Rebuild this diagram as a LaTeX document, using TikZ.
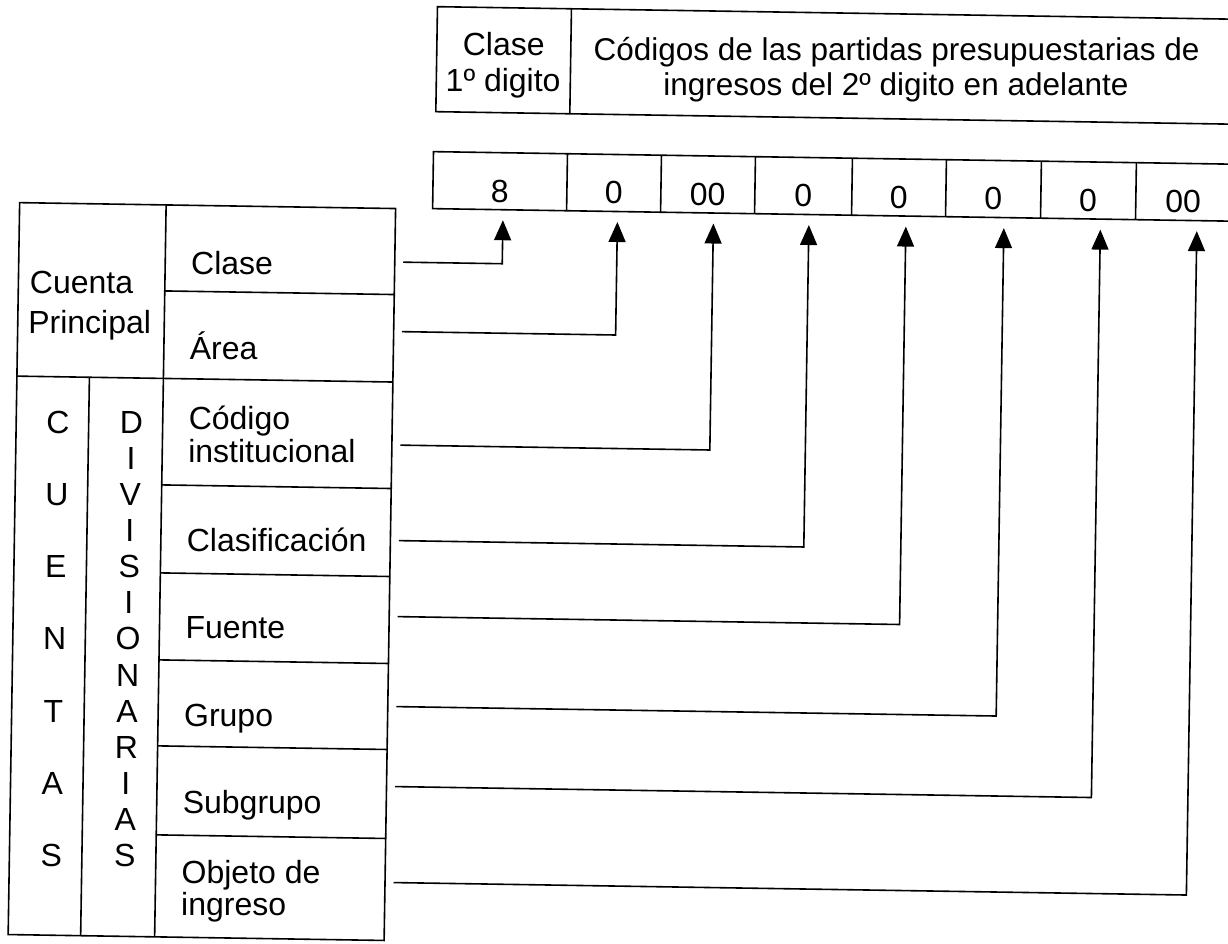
\documentclass[tikz,border=0pt]{standalone}
\usepackage{fontspec}
\setmainfont{Liberation Sans}
\usetikzlibrary{arrows.meta}
\begin{document}
\begin{tikzpicture}[x=1pt,y=-1pt,
  tbl/.style={line width=1.6pt},
  conn/.style={line width=1.6pt,-{Triangle[length=20pt,width=17pt]}},
  txt/.style={inner sep=0pt,font=\fontsize{32}{36}\selectfont},
  lab/.style={txt,anchor=base west},
  ctr/.style={txt,anchor=base},
  head/.style={ctr,font=\fontsize{31.5}{36}\selectfont}]
\useasboundingbox (0,0) rectangle (1228,943);
\fill[white] (0,0) rectangle (1228,943);
\clip (0,0) rectangle (1228,943);
\begin{scope}[rotate around={-0.9:(614,471)}]
% ---------- header box ----------
\draw[tbl] (1262,9.5) -- (430.2,9.5) -- (430.2,114.5) -- (1262,114.5);
\draw[tbl] (564.2,9.5) -- (564.2,114.5);
\node[ctr] (hclase) at (497.2,56.8) {Clase};
\node[ctr] (hdigito) at (497.2,93.5) {1º digito};
\node[head] (hcod1) at (890,56) {Códigos de las partidas presupuestarias de};
\node[head] (hcod2) at (890,91) {ingresos del 2º digito en adelante};
% ---------- digit row ----------
\draw[tbl] (1262,154.5) -- (428.5,154.5) -- (428.5,211.5) -- (1262,211.5);
\foreach \x in {562.5,656.5,750.5,847.5,941.5,1036.5,1131.5,1226.5}
  \draw[tbl] (\x,154.5) -- (\x,211.5);
\foreach \n/\x/\t in {1/495.5/8,2/609.5/0,3/703.5/00,4/799/0,5/894.5/0,6/989/0,7/1084/0,8/1179/00}
  \node[ctr] (d\n) at (\x,204) {\t};
% ---------- left table ----------
\draw[tbl] (15.5,212) rectangle (391.5,944);
\draw[tbl] (162,212) -- (162,944);
\draw[tbl] (88,385.5) -- (88,944);
\draw[tbl] (15.5,385.5) -- (391.5,385.5);
\foreach \y in {298,492,580,667,753,842}
  \draw[tbl] (162,\y) -- (391.5,\y);
\node[lab] (cuenta) at (27,302.5) {Cuenta};
\node[lab] (principal) at (26,342.5) {Principal};
\foreach \l [count=\i from 0] in {C,U,E,N,T,A,S}
  \node[ctr] (cu\i) at ({57.5},{442.2+72.17*\i}) {\l};
\foreach \l [count=\i from 0] in {D,I,V,I,S,I,O,N,A,R,I,A,S}
  \node[ctr] (dv\i) at ({131},{441.1+36.08*\i}) {\l};
\node[lab] (lclase) at (188,281.6) {Clase};
\node[lab] (larea) at (188,366.6) {Área};
\node[lab] (lcodigo) at (188,436.6) {Código};
\node[lab] (lcodigob) at (188,468.7) {institucional};
\node[lab] (lclasif) at (188,558.4) {Clasificación};
\node[lab] (lfuente) at (188,645) {Fuente};
\node[lab] (lgrupo) at (188,733.5) {Grupo};
\node[lab] (lsubgrupo) at (188,820) {Subgrupo};
\node[lab] (lobjeto) at (188,890) {Objeto de};
\node[lab] (lobjetob) at (188,922) {ingreso};
% ---------- connectors ----------
\foreach \n/\y/\x in {1/265.5/499,2/335/613.5,3/448.5/709.5,4/544/805,5/620/902,6/710/1000,7/790/1096.5,8/886/1193}{
  \coordinate (s\n) at (400,\y);
  \coordinate (t\n) at (\x,222);
  \draw[conn] (s\n) -| (t\n);
}
\end{scope}
\end{tikzpicture}
\end{document}
